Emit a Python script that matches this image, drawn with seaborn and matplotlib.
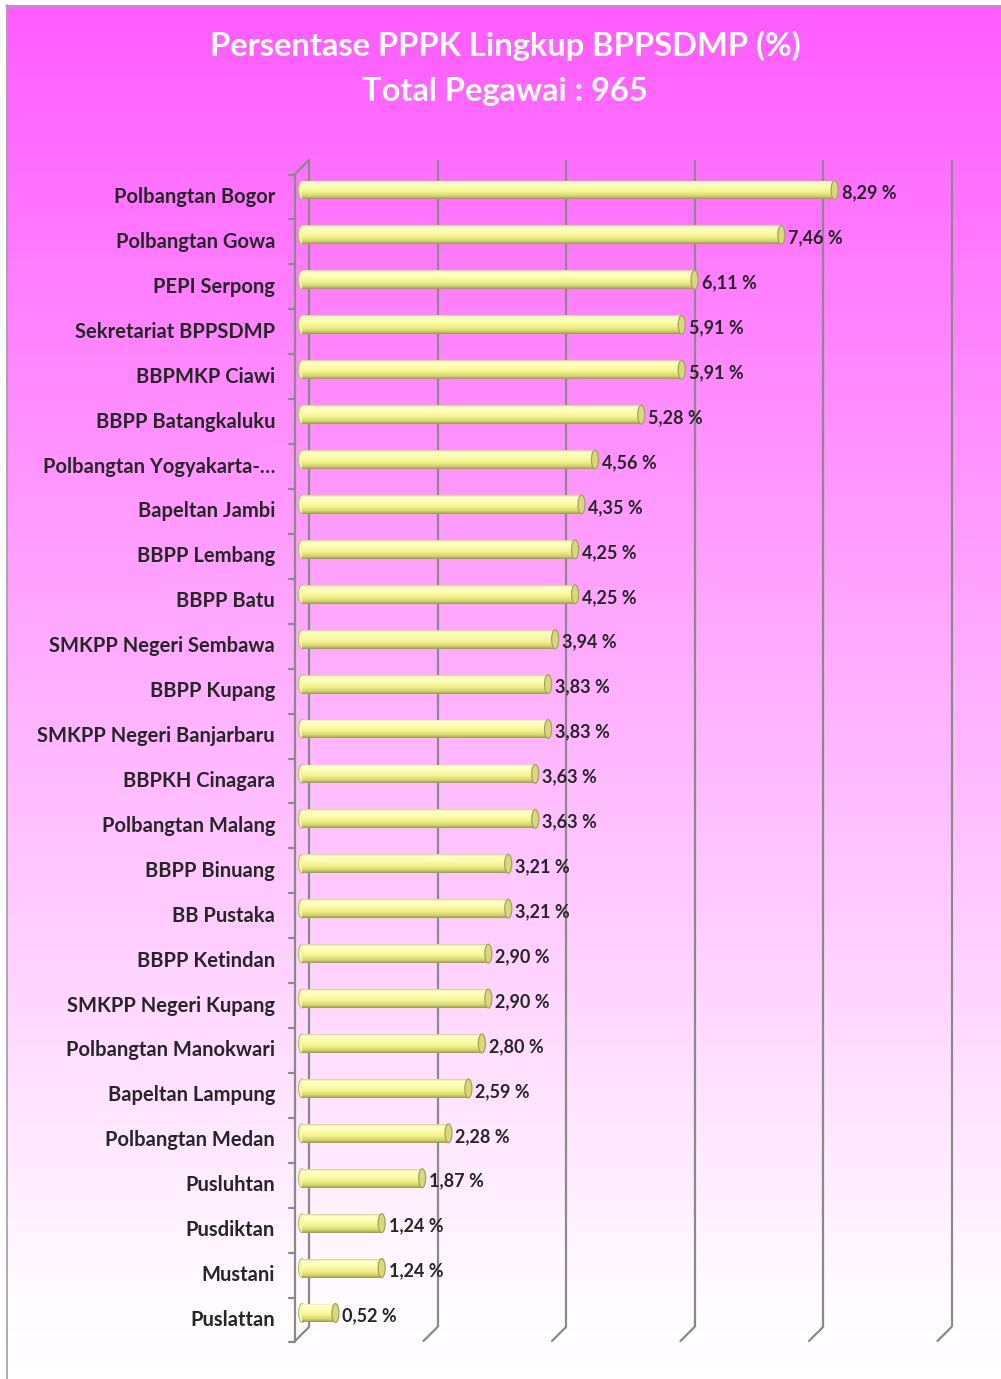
import numpy as np
import pandas as pd
import matplotlib
matplotlib.use("Agg")
import matplotlib.pyplot as plt
import seaborn as sns
from matplotlib.colors import LinearSegmentedColormap
from matplotlib.patches import Ellipse

categories = ["Polbangtan Bogor", "Polbangtan Gowa", "PEPI Serpong", "Sekretariat BPPSDMP",
              "BBPMKP Ciawi", "BBPP Batangkaluku", "Polbangtan Yogyakarta-\u2026", "Bapeltan Jambi",
              "BBPP Lembang", "BBPP Batu", "SMKPP Negeri Sembawa", "BBPP Kupang",
              "SMKPP Negeri Banjarbaru", "BBPKH Cinagara", "Polbangtan Malang", "BBPP Binuang",
              "BB Pustaka", "BBPP Ketindan", "SMKPP Negeri Kupang", "Polbangtan Manokwari",
              "Bapeltan Lampung", "Polbangtan Medan", "Pusluhtan", "Pusdiktan", "Mustani", "Puslattan"]
values = [8.29, 7.46, 6.11, 5.91, 5.91, 5.28, 4.56, 4.35, 4.25, 4.25, 3.94, 3.83, 3.83, 3.63,
          3.63, 3.21, 3.21, 2.90, 2.90, 2.80, 2.59, 2.28, 1.87, 1.24, 1.24, 0.52]
grid_ticks = [0, 2, 4, 6, 8, 10]
title_lines = ["Persentase PPPK Lingkup BPPSDMP (%)", "Total Pegawai : 965"]

sns.set_theme(style="white")
plt.rcParams['font.family'] = ['Lato', 'DejaVu Sans']

W, H = 1001, 1379
fig = plt.figure(figsize=(W / 100, H / 100), dpi=100)
fig.patch.set_facecolor("white")

# background gradient
bg = fig.add_axes([6 / W, 0, 1 - 6 / W, 1 - 5 / H], zorder=-10)
grad = np.linspace(0, 1, 400).reshape(-1, 1)
bg_cmap = LinearSegmentedColormap.from_list("bg", [(0, "#ff5cff"), (0.45, "#ffa8ff"), (0.93, "#fffaff"), (1, "#ffffff")])
bg.imshow(grad, aspect="auto", cmap=bg_cmap, extent=(0, 1, 0, 1), origin="upper")
bg.set_xlim(0, 1); bg.set_ylim(0, 1)
bg.axis("off")
fig.add_artist(plt.Line2D([6.5 / W, 6.5 / W], [0, 1 - 5 / H], color="#a6a6a6", lw=1.3, transform=fig.transFigure))
fig.add_artist(plt.Line2D([6 / W, 1], [1 - 5.5 / H, 1 - 5.5 / H], color="#a6a6a6", lw=1.3, transform=fig.transFigure))

L, R, T, B = 280, 975, 150, 1350
ax = fig.add_axes([L / W, 1 - B / H, (R - L) / W, (B - T) / H])
ax.set_facecolor("none")

df = pd.DataFrame({"cat": categories, "val": values})
bar_h = 0.42
sns.barplot(data=df, x="val", y="cat", orient="h", width=bar_h, color="#f7f7a0", ax=ax, zorder=3)

px_per_x = 64.25
px_per_y = 44.92
def xv(px):
    return (px - 302) / px_per_x
def yv(px):
    return (px - 190) / px_per_y
xlim = (xv(L), xv(R))
ylim = (yv(B), yv(T))

dx = 7 / px_per_x
dy = 7 / px_per_y
gcol = "#8a8a8a"
glw = 1.6
y_back_top = yv(160)
y_back_bot = yv(1327)
n = len(categories)
for g in grid_ticks:
    ax.plot([g + dx, g + dx], [y_back_top, y_back_bot], color=gcol, lw=glw, zorder=1, solid_capstyle="butt")
    ax.plot([g + dx, g - dx], [y_back_bot, y_back_bot + 2 * dy], color=gcol, lw=glw, zorder=1)
ax.plot([-dx, -dx], [y_back_top + 2 * dy, y_back_bot + 2 * dy], color=gcol, lw=glw, zorder=1)
ax.plot([-dx, dx], [y_back_top + 2 * dy, y_back_top], color=gcol, lw=glw, zorder=1)
tick_len = 6 / px_per_x
for k in range(n + 1):
    yk = k - 0.5 + dy
    ax.plot([-dx - tick_len, -dx], [yk, yk], color=gcol, lw=glw, zorder=1)

bar_cmap = LinearSegmentedColormap.from_list("bar", [(0, "#cfcf80"), (0.1, "#ffffcc"), (0.35, "#fdfdb2"),
                                                     (0.62, "#f3f38e"), (0.85, "#d4d46c"), (1, "#98984c")])
cap_w = 7 / px_per_x
for p, v in zip(list(ax.patches), values):
    x0, y0, w, h = p.get_x(), p.get_y(), p.get_width(), p.get_height()
    yc = y0 + h / 2
    left = Ellipse((x0, yc), cap_w, h, facecolor="#f6f6aa", edgecolor="#bcbc72", lw=0.8, zorder=2.5)
    ax.add_patch(left)
    p.set_facecolor("none")
    p.set_edgecolor("none")
    im = ax.imshow(grad, aspect="auto", cmap=bar_cmap, extent=(x0, x0 + w, y0 + h, y0),
                   origin="upper", zorder=3, interpolation="bilinear")
    im.set_clip_path(p)
    cap = Ellipse((x0 + w, yc), cap_w, h, facecolor="#d9d97c", edgecolor="#a4a45a", lw=0.9, zorder=4)
    ax.add_patch(cap)
    ax.text(x0 + w + 7 / px_per_x, yc + 3 / px_per_y, f"{v:.2f} %".replace(".", ","),
            ha="left", va="center", fontsize=13, fontweight="bold", color="#262626", zorder=5)

for i, c in enumerate(categories):
    ax.text(xv(275), i + dy, c, ha="right", va="center", fontsize=14.5, fontweight="bold", color="#262626")

ax.set_xlim(*xlim)
ax.set_ylim(*ylim)
ax.set_xlabel(""); ax.set_ylabel("")
ax.set_xticks([]); ax.set_yticks([])
for s in ax.spines.values():
    s.set_visible(False)

fig.text(505 / W, 1 - 46 / H, title_lines[0], ha="center", va="center", fontsize=23.5,
         fontweight="bold", color="white")
fig.text(505 / W, 1 - 92 / H, title_lines[1], ha="center", va="center", fontsize=23.5,
         fontweight="bold", color="white")

fig.savefig("out.png", dpi=100, facecolor=fig.get_facecolor())
